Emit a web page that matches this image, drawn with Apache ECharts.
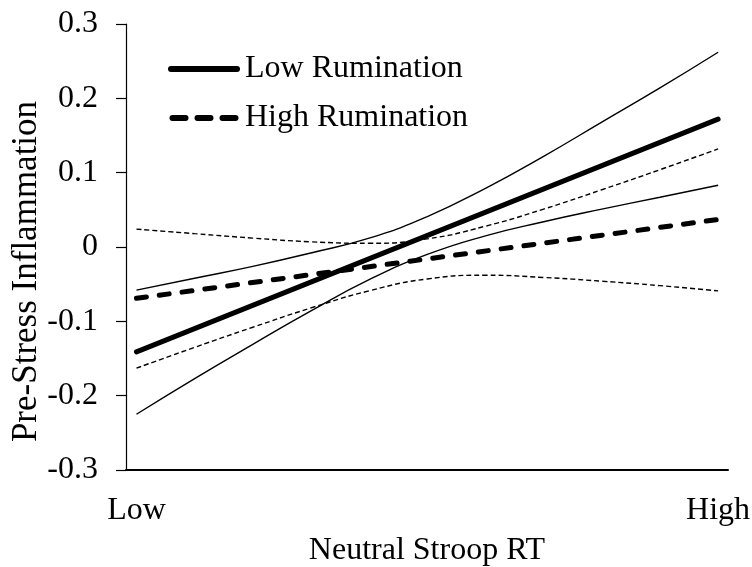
<!DOCTYPE html>
<html>
<head>
<meta charset="utf-8">
<script src="https://cdn.jsdelivr.net/npm/echarts@6/dist/echarts.min.js"></script>
<style>
  html, body { margin: 0; padding: 0; background: #fff; }
  #chart { width: 752px; height: 567px; }
</style>
</head>
<body>
<div id="chart"></div>
<script>
// Neutral Stroop RT positions: 0 = Low, 1 = High
const stroopPos = [0, 0.1, 0.2, 0.3, 0.4, 0.5, 0.6, 0.7, 0.8, 0.9, 1];
const stroopTicks = [0, 1];
const stroopTickLabels = ['Low', 'High'];

// Simple slopes (endpoints at Low and High)
const slopePos = [0, 1];
const lowRumination = [-0.141, 0.172];
const highRumination = [-0.069, 0.037];

// Confidence bands, read along stroopPos
const lowRumUpper = [-0.058, -0.042, -0.026, -0.008, 0.012, 0.041, 0.079, 0.122, 0.168, 0.214, 0.262];
const lowRumLower = [-0.225, -0.177, -0.131, -0.086, -0.044, -0.010, 0.015, 0.034, 0.051, 0.067, 0.083];
const highRumUpper = [0.024, 0.018, 0.012, 0.007, 0.005, 0.011, 0.028, 0.051, 0.077, 0.104, 0.132];
const highRumLower = [-0.163, -0.135, -0.108, -0.082, -0.059, -0.043, -0.038, -0.041, -0.046, -0.052, -0.059];

const yTicks = { min: -0.3, max: 0.3, step: 0.1 };

const FONT = 'Liberation Serif';

// Legend glyphs: a solid bar and three dashes
const solidIcon = 'path://M3,0H69A3,3 0 0 1 69,6H3A3,3 0 0 1 3,0Z';
const dashIcon = 'path://M3,0H16A3,3 0 0 1 16,6H3A3,3 0 0 1 3,0Z' +
  'M28,0H41A3,3 0 0 1 41,6H28A3,3 0 0 1 28,0Z' +
  'M53,0H66A3,3 0 0 1 66,6H53A3,3 0 0 1 53,0Z';

function pairs(xs, ys) {
  return xs.map((x, i) => [x, ys[i]]);
}

const chart = echarts.init(document.getElementById('chart'), null, { renderer: 'canvas' });

const bandStyle = (dashed) => ({
  type: 'line',
  symbol: 'none',
  smooth: true,
  silent: true,
  lineStyle: { color: '#000', width: 1.4, type: dashed ? [5, 3] : 'solid' },
  z: 2
});

chart.setOption({
  animation: false,
  backgroundColor: '#fff',
  textStyle: { fontFamily: FONT, color: '#000' },
  grid: { left: 126, right: 24, top: 24, bottom: 97, containLabel: false, outerBoundsMode: 'none' },
  legend: {
    data: [
      { name: 'Low Rumination', icon: solidIcon },
      { name: 'High Rumination', icon: dashIcon }
    ],
    orient: 'vertical',
    left: 163,
    top: 48,
    itemWidth: 72,
    itemHeight: 6,
    itemGap: 17,
    itemStyle: { color: '#000', borderWidth: 0 },
    textStyle: { fontFamily: FONT, fontSize: 32, color: '#000' }
  },
  xAxis: {
    type: 'value',
    min: -0.018,
    max: 1.017,
    name: 'Neutral Stroop RT',
    nameLocation: 'middle',
    nameGap: 65,
    nameMoveOverlap: false,
    nameTextStyle: { fontFamily: FONT, fontSize: 32, color: '#000' },
    axisLine: { show: true, onZero: false, lineStyle: { color: '#000', width: 2 } },
    axisTick: { show: false },
    splitLine: { show: false },
    axisLabel: {
      customValues: stroopTicks,
      fontFamily: FONT,
      fontSize: 32,
      color: '#000',
      margin: 25,
      formatter: (v) => {
        const i = stroopTicks.indexOf(v);
        return i >= 0 ? stroopTickLabels[i] : '';
      }
    }
  },
  yAxis: {
    type: 'value',
    min: yTicks.min,
    max: yTicks.max,
    interval: yTicks.step,
    name: 'Pre-Stress Inflammation',
    nameLocation: 'middle',
    nameGap: 82,
    nameMoveOverlap: false,
    nameRotate: 90,
    nameTextStyle: { fontFamily: FONT, fontSize: 35, color: '#000', padding: [0, 49, 0, 0] },
    axisLine: { show: true, onZero: false, lineStyle: { color: '#000', width: 1.2 } },
    axisTick: { show: true, inside: false, length: 10, lineStyle: { color: '#000', width: 1.2 } },
    splitLine: { show: false },
    axisLabel: {
      fontFamily: FONT,
      fontSize: 32,
      color: '#000',
      margin: 28,
      padding: [5, 0, 0, 0],
      formatter: (v) => {
        const r = Math.round(v * 10) / 10;
        return r === 0 ? '0' : r.toFixed(1);
      }
    }
  },
  series: [
    Object.assign(bandStyle(false), { name: 'Low Rumination CI upper', data: pairs(stroopPos, lowRumUpper) }),
    Object.assign(bandStyle(false), { name: 'Low Rumination CI lower', data: pairs(stroopPos, lowRumLower) }),
    Object.assign(bandStyle(true), { name: 'High Rumination CI upper', data: pairs(stroopPos, highRumUpper) }),
    Object.assign(bandStyle(true), { name: 'High Rumination CI lower', data: pairs(stroopPos, highRumLower) }),
    {
      name: 'Low Rumination',
      type: 'line',
      symbol: 'none',
      data: pairs(slopePos, lowRumination),
      lineStyle: { color: '#000', width: 5, cap: 'round' },
      itemStyle: { color: '#000' },
      z: 4
    },
    {
      name: 'High Rumination',
      type: 'line',
      symbol: 'none',
      data: pairs(slopePos, highRumination),
      lineStyle: { color: '#000', width: 5, type: [10, 13], cap: 'round' },
      itemStyle: { color: '#000' },
      z: 4
    }
  ]
});
</script>
</body>
</html>
